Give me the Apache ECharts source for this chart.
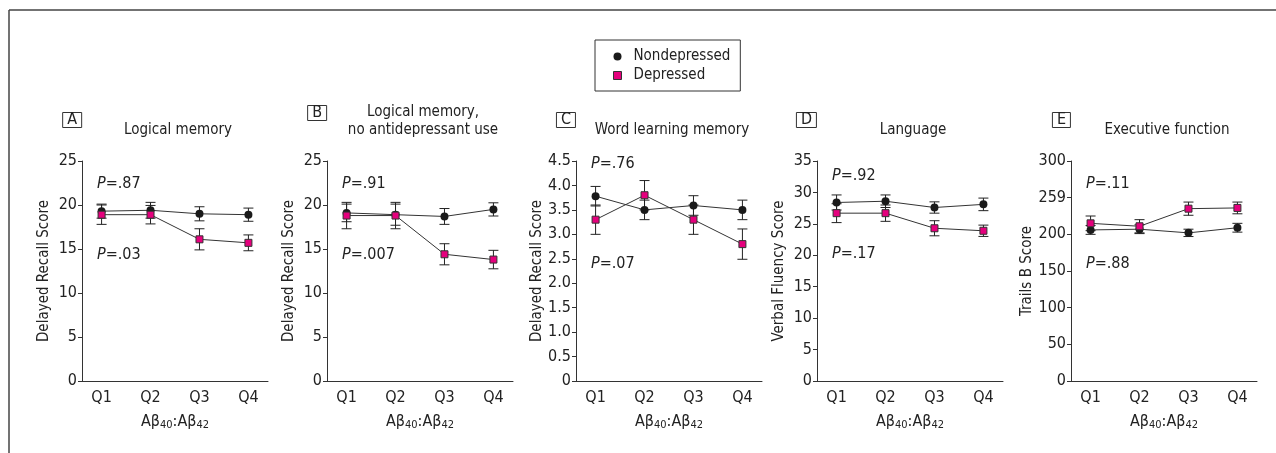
<!DOCTYPE html>
<html>
<head>
<meta charset="utf-8">
<script src="https://cdn.jsdelivr.net/npm/echarts@6/dist/echarts.min.js"></script>
<style>
  html, body { margin: 0; padding: 0; background: #fff; }
  #main { width: 1276px; height: 453px; }
</style>
</head>
<body>
<div id="main"></div>
<script>
// quartiles of Abeta40:Abeta42
var categories = ['Q1', 'Q2', 'Q3', 'Q4'];

// A - logical memory
var nondepA = [19.3, 19.4, 19.0, 18.9];
var nondepAErr = [0.8, 0.9, 0.8, 0.75];
var depA = [18.9, 18.9, 16.1, 15.7];
var depAErr = [1.1, 1.05, 1.2, 0.9];

// B - logical memory, no antidepressant use
var nondepB = [19.1, 18.9, 18.7, 19.5];
var nondepBErr = [1.0, 1.2, 0.9, 0.75];
var depB = [18.8, 18.8, 14.4, 13.8];
var depBErr = [1.5, 1.5, 1.2, 1.05];

// C - word learning memory
var nondepC = [3.78, 3.5, 3.59, 3.5];
var nondepCErr = [0.2, 0.2, 0.2, 0.2];
var depC = [3.3, 3.8, 3.3, 2.8];
var depCErr = [0.3, 0.3, 0.3, 0.31];

// D - language
var nondepD = [28.4, 28.6, 27.6, 28.1];
var nondepDErr = [1.2, 1.0, 0.9, 1.0];
var depD = [26.7, 26.7, 24.3, 23.9];
var depDErr = [1.5, 1.3, 1.2, 0.9];

// E - executive function
var nondepE = [206, 207, 202, 209];
var nondepEErr = [6, 6, 5, 6];
var depE = [215, 211, 235, 236];
var depEErr = [10, 9, 9, 8];

// tick labels (E keeps the "259" printed in the original)
var yTicksAB = ['0', '5', '10', '15', '20', '25'];
var yTicksC = ['0', '0.5', '1.0', '1.5', '2.0', '2.5', '3.0', '3.5', '4.0', '4.5'];
var yTicksD = ['0', '5', '10', '15', '20', '25', '30', '35'];
var yTicksE = ['0', '50', '100', '150', '200', '259', '300'];

var letters = ['A', 'B', 'C', 'D', 'E'];
var titles = ['Logical memory', 'Logical memory,\nno antidepressant use', 'Word learning memory', 'Language', 'Executive function'];
var yNames = ['Delayed Recall Score', 'Delayed Recall Score', 'Delayed Recall Score', 'Verbal Fluency Score', 'Trails B Score'];
var pTop = ['.87', '.91', '.76', '.92', '.11'];
var pBottom = ['.03', '.007', '.07', '.17', '.88'];

var FONT = "'Liberation Sans Narrow', 'Arial Narrow', 'DejaVu Sans Condensed', sans-serif";
var INK = '#222';
var PINK = '#e5007d';

var panels = [
  { nd: nondepA, ndErr: nondepAErr, dp: depA, dpErr: depAErr, max: 25, interval: 5, ticks: yTicksAB },
  { nd: nondepB, ndErr: nondepBErr, dp: depB, dpErr: depBErr, max: 25, interval: 5, ticks: yTicksAB },
  { nd: nondepC, ndErr: nondepCErr, dp: depC, dpErr: depCErr, max: 4.5, interval: 0.5, ticks: yTicksC },
  { nd: nondepD, ndErr: nondepDErr, dp: depD, dpErr: depDErr, max: 35, interval: 5, ticks: yTicksD },
  { nd: nondepE, ndErr: nondepEErr, dp: depE, dpErr: depEErr, max: 300, interval: 50, ticks: yTicksE }
];

var gridLeft = [82, 327, 576, 817, 1071];
var gridW = 186, gridTop = 161, gridH = 220;
var pTopY = [176, 176, 156, 168, 176];
var pBotY = [247, 247, 256, 246, 256];

function toPoints(vals, errs) {
  return vals.map(function (v, i) { return [i + 1, v, errs ? errs[i] : 0]; });
}

function renderErr(params, api) {
  var x = api.value(0), y = api.value(1), e = api.value(2);
  var hi = api.coord([x, y + e]);
  var lo = api.coord([x, y - e]);
  var style = { stroke: INK, lineWidth: 1 };
  return {
    type: 'group',
    children: [
      { type: 'line', shape: { x1: hi[0], y1: hi[1], x2: lo[0], y2: lo[1] }, style: style },
      { type: 'line', shape: { x1: hi[0] - 5, y1: hi[1], x2: hi[0] + 5, y2: hi[1] }, style: style },
      { type: 'line', shape: { x1: lo[0] - 5, y1: lo[1], x2: lo[0] + 5, y2: lo[1] }, style: style }
    ]
  };
}

var grid = [], xAxis = [], yAxis = [], series = [], title = [], graphic = [];

graphic.push({ type: 'line', shape: { x1: 9, y1: 10, x2: 1276, y2: 10 }, style: { stroke: '#444', lineWidth: 1.5 } });
graphic.push({ type: 'line', shape: { x1: 9, y1: 10, x2: 9, y2: 453 }, style: { stroke: '#444', lineWidth: 1.5 } });

panels.forEach(function (p, k) {
  var left = gridLeft[k];
  grid.push({ left: left, top: gridTop, width: gridW, height: gridH });
  xAxis.push({
    type: 'value', gridIndex: k, min: 0.6, max: 4.4,
    name: 'Aβ{s|40}:Aβ{s|42}', nameLocation: 'middle', nameGap: 31,
    nameTextStyle: { fontFamily: FONT, fontSize: 16, color: INK, rich: { s: { fontFamily: FONT, fontSize: 11, color: INK, padding: [8, 0, 0, 0] } } },
    axisLine: { lineStyle: { color: '#333', width: 1 } },
    axisTick: { show: false },
    splitLine: { show: false },
    axisLabel: {
      customValues: [1, 2, 3, 4], margin: 9,
      fontFamily: FONT, fontSize: 16, color: INK,
      formatter: function (v) { return categories[Math.round(v) - 1]; }
    }
  });
  yAxis.push({
    type: 'value', gridIndex: k, min: 0, max: p.max, interval: p.interval,
    name: yNames[k], nameLocation: 'middle', nameGap: 30,
    nameTextStyle: { fontFamily: FONT, fontSize: 15, color: INK },
    axisLine: { show: true, lineStyle: { color: '#333', width: 1 } },
    axisTick: { show: true, length: 4, lineStyle: { color: '#333' } },
    splitLine: { show: false },
    axisLabel: {
      margin: 5, fontFamily: FONT, fontSize: 16, color: INK,
      formatter: function (v) { return p.ticks[Math.round(v / p.interval)]; }
    }
  });
  series.push({
    type: 'custom', name: 'ndErr' + k, xAxisIndex: k, yAxisIndex: k, z: 1,
    renderItem: renderErr, data: toPoints(p.nd, p.ndErr), silent: true
  });
  series.push({
    type: 'custom', name: 'dpErr' + k, xAxisIndex: k, yAxisIndex: k, z: 1,
    renderItem: renderErr, data: toPoints(p.dp, p.dpErr), silent: true
  });
  series.push({
    type: 'line', name: 'Nondepressed', xAxisIndex: k, yAxisIndex: k, z: 3,
    data: toPoints(p.nd), symbol: 'circle', symbolSize: 8,
    itemStyle: { color: '#1a1a1a' }, lineStyle: { color: '#333', width: 1 }
  });
  series.push({
    type: 'line', name: 'Depressed', xAxisIndex: k, yAxisIndex: k, z: 4,
    data: toPoints(p.dp), symbol: 'rect', symbolSize: 7,
    itemStyle: { color: PINK, borderColor: '#333', borderWidth: 1 }, lineStyle: { color: '#333', width: 1 }
  });

  // panel letter box and heading
  title.push({
    text: letters[k], right: 1276 - left, top: k === 1 ? 105 : 112,
    borderColor: '#333', borderWidth: 1, padding: [0, 5, 0, 5],
    textStyle: { fontFamily: FONT, fontSize: 16, fontWeight: 'normal', color: INK, lineHeight: 16 }
  });
  title.push({
    text: titles[k], left: left + gridW / 2 + 3, top: k === 1 ? 103 : 121, textAlign: 'center',
    padding: 0,
    textStyle: { fontFamily: FONT, fontSize: 15, fontWeight: 'normal', color: INK, lineHeight: 18, align: 'center' }
  });

  graphic.push({
    type: 'text', left: left + 15, top: pTopY[k],
    style: { text: '{i|P}=' + pTop[k], fontFamily: FONT, fontSize: 16, fill: INK, rich: { i: { fontStyle: 'italic', fontFamily: FONT, fontSize: 16, fill: INK } } }
  });
  graphic.push({
    type: 'text', left: left + 15, top: pBotY[k],
    style: { text: '{i|P}=' + pBottom[k], fontFamily: FONT, fontSize: 16, fill: INK, rich: { i: { fontStyle: 'italic', fontFamily: FONT, fontSize: 16, fill: INK } } }
  });
});

var myChart = echarts.init(document.getElementById('main'));
myChart.setOption({
  animation: false,
  title: title,
  grid: grid,
  xAxis: xAxis,
  yAxis: yAxis,
  legend: {
    left: 595, top: 40, orient: 'vertical',
    borderColor: '#333', borderWidth: 1,
    padding: [9, 10, 8, 18], itemGap: 4, itemWidth: 8, itemHeight: 8,
    textStyle: { fontFamily: FONT, fontSize: 15, color: INK, padding: [0, 0, 0, 7] },
    data: [
      { name: 'Nondepressed', icon: 'circle', itemStyle: { color: '#1a1a1a' } },
      { name: 'Depressed', icon: 'rect', itemStyle: { color: PINK, borderColor: '#333', borderWidth: 1 } }
    ]
  },
  graphic: graphic,
  series: series
});
</script>
</body>
</html>
